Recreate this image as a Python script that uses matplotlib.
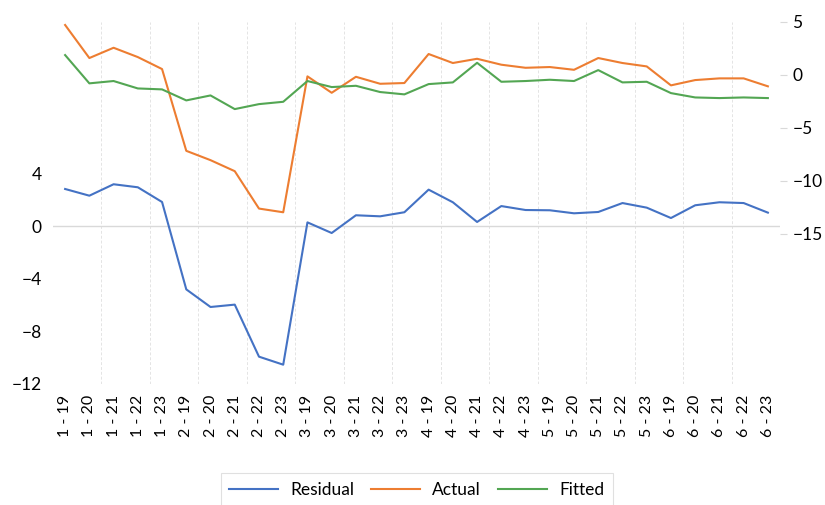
import matplotlib
matplotlib.use("Agg")
import matplotlib.pyplot as plt
import numpy as np

plt.rcParams['font.family'] = ['Lato', 'DejaVu Sans']

# category labels: group - year
groups = ['1', '2', '3', '4', '5', '6']
years = ['19', '20', '21', '22', '23']
labels = [g + ' - ' + y for g in groups for y in years]

residual = [2.84, 2.33, 3.20, 2.97, 1.85,
            -4.80, -6.14, -5.96, -9.92, -10.53,
            0.30, -0.51, 0.84, 0.76, 1.07,
            2.79, 1.83, 0.33, 1.54, 1.24,
            1.22, 0.99, 1.09, 1.77, 1.42,
            0.63, 1.60, 1.83, 1.77, 1.04]

actual = [4.69, 1.57, 2.54, 1.66, 0.53,
          -7.19, -8.07, -9.11, -12.64, -12.99,
          -0.16, -1.71, -0.20, -0.86, -0.79,
          1.95, 1.10, 1.50, 0.94, 0.65,
          0.72, 0.46, 1.57, 1.10, 0.78,
          -1.01, -0.51, -0.35, -0.35, -1.10]

fitted = [1.85, -0.82, -0.60, -1.30, -1.39,
          -2.43, -1.96, -3.25, -2.78, -2.56,
          -0.60, -1.17, -1.05, -1.64, -1.86,
          -0.89, -0.73, 1.12, -0.67, -0.60,
          -0.48, -0.60, 0.43, -0.73, -0.67,
          -1.74, -2.15, -2.21, -2.15, -2.21]

x = np.arange(len(labels))

fig = plt.figure(figsize=(8.25, 5.05), dpi=100)
ax = fig.add_axes([53/825, 1 - 384/505, (780 - 53)/825, (384 - 21.7)/505])
ax2 = ax.twinx()

# faint dashed vertical gridlines every other category boundary
for gx in np.arange(1.5, len(labels) - 1, 2):
    ax.axvline(gx, color='#e4e4e4', lw=0.7, ls=(0, (3, 2)), zorder=0)
ax.axhline(0, color='#d9d9d9', lw=1.0, zorder=0)

l1, = ax.plot(x, residual, color='#4472c4', lw=1.5, label='Residual')
l2, = ax2.plot(x, actual, color='#ed7d31', lw=1.5, label='Actual')
l3, = ax2.plot(x, fitted, color='#53a653', lw=1.5, label='Fitted')

ax.set_xlim(-0.5, len(labels) - 0.5)
ax.set_ylim(-12, 15.57)
ax.set_yticks([-12, -8, -4, 0, 4])
ax2.set_ylim(-29.2, 5)
ax2.set_yticks([-15, -10, -5, 0, 5])

ax.set_xticks(x)
ax.set_xticklabels(labels, rotation=90, fontsize=11.5)
ax.tick_params(axis='x', length=0, pad=8)
ax.tick_params(axis='y', length=0, labelsize=12.5, pad=8)
ax2.tick_params(axis='y', length=5, color='#d9d9d9', labelsize=12.5, pad=4)

for a in (ax, ax2):
    for s in a.spines.values():
        s.set_visible(False)

leg = fig.legend(handles=[l1, l2, l3], loc='center', bbox_to_anchor=(0.505, 0.03),
                 ncol=3, frameon=True, fancybox=False, fontsize=12.5,
                 handlelength=2.8, columnspacing=1.0, handletextpad=0.7,
                 borderpad=0.5)
leg.get_frame().set_edgecolor('#d9d9d9')
leg.get_frame().set_linewidth(0.8)

fig.savefig('out.png', dpi=100)
